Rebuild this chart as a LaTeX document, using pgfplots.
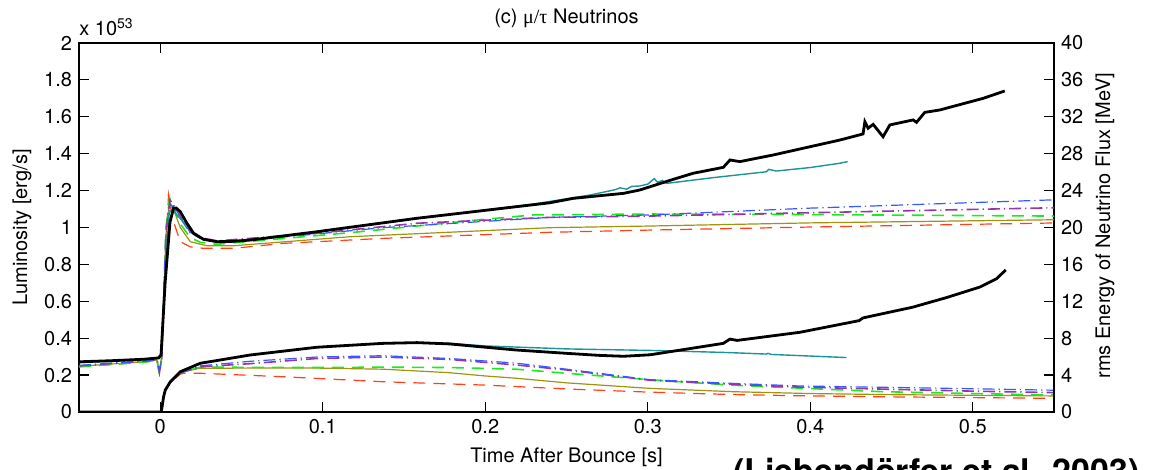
\documentclass[border=0pt]{standalone}
\usepackage{fontspec}
\setmainfont{TeX Gyre Heros}
\newfontfamily\greek{Liberation Serif}
\usepackage{pgfplots}
\pgfplotsset{compat=1.18}

\definecolor{cteal}{rgb}{0.10,0.58,0.60}
\definecolor{cblue}{rgb}{0.20,0.35,1.00}
\definecolor{cpurple}{rgb}{0.60,0.20,0.65}
\definecolor{cgreen}{rgb}{0.10,0.93,0.10}
\definecolor{colive}{rgb}{0.62,0.58,0.05}
\definecolor{cred}{rgb}{1.00,0.25,0.10}

\pgfplotsset{
  base/.style={
    width=487.5pt, height=184.5pt, scale only axis,
    at={(0,0)}, anchor=south west,
    xmin=-0.05, xmax=0.55,
    tick align=inside, major tick length=5pt,
    tick style={black, line width=0.6pt},
    axis line style={line width=0.6pt},
    tick label style={font=\fontsize{10}{12}\selectfont},
    label style={font=\fontsize{10}{12}\selectfont},
    clip=true,
  },
  sdash/.style={dash pattern=on 6pt off 4pt},
  sdd/.style={dash pattern=on 6pt off 2pt on 0.6pt off 2pt},
}

\begin{document}
\begin{tikzpicture}
% luminosities, left axis
\begin{axis}[base,
  ymin=0, ymax=2,
  xtick={0,0.1,0.2,0.3,0.4,0.5}, xticklabels={0,0.1,0.2,0.3,0.4,0.5},
  ytick={0,0.2,...,2}, yticklabels={0,0.2,0.4,0.6,0.8,1,1.2,1.4,1.6,1.8,2},
  xlabel={Time After Bounce [s]},
  xlabel style={at={(axis description cs:0.5,-0.122)}, anchor=center},
  ylabel={Luminosity [erg/s]},
  ylabel style={at={(axis description cs:-0.0585,0.5)}, anchor=center},
]
\addplot[cred, sdash, line width=0.6pt] coordinates {
(-0.05,0)(0.0005,0)(0.001,0.02)(0.002,0.08)(0.0031,0.118)(0.0062,0.16)(0.0123,0.205)(0.0143,0.21)(0.0246,0.21)(0.0758,0.191)(0.137,0.164)(0.199,0.146)(0.255,0.123)(0.3,0.108)(0.35,0.095)(0.4,0.087)(0.45,0.082)(0.55,0.074)};
\addplot[colive, line width=0.6pt] coordinates {
(-0.05,0)(0.0005,0)(0.001,0.02)(0.002,0.08)(0.0031,0.118)(0.0062,0.162)(0.0123,0.215)(0.0246,0.237)(0.0554,0.238)(0.0964,0.238)(0.137,0.232)(0.178,0.213)(0.199,0.196)(0.219,0.183)(0.25,0.158)(0.3014,0.128)(0.3526,0.11)(0.4,0.1)(0.45,0.094)(0.55,0.087)};
\addplot[cgreen, sdash, line width=0.8pt] coordinates {
(-0.05,0)(0.0005,0)(0.001,0.02)(0.002,0.08)(0.0031,0.118)(0.0062,0.162)(0.0123,0.215)(0.0246,0.243)(0.0554,0.242)(0.0964,0.241)(0.137,0.243)(0.178,0.241)(0.219,0.232)(0.25,0.21)(0.3014,0.175)(0.3526,0.145)(0.4448,0.11)(0.5,0.1)(0.55,0.092)};
\addplot[cpurple, sdd, line width=0.8pt] coordinates {
(-0.05,0)(0.0005,0)(0.001,0.02)(0.002,0.08)(0.0031,0.118)(0.0062,0.162)(0.0123,0.212)(0.0246,0.245)(0.0554,0.262)(0.0964,0.29)(0.137,0.298)(0.178,0.285)(0.219,0.255)(0.25,0.228)(0.3014,0.172)(0.3526,0.15)(0.3936,0.135)(0.4448,0.124)(0.5,0.113)(0.55,0.105)};
\addplot[cblue, sdd, line width=0.6pt] coordinates {
(-0.05,0)(0.0005,0)(0.001,0.02)(0.002,0.08)(0.0031,0.118)(0.0062,0.162)(0.0123,0.212)(0.0246,0.25)(0.0554,0.275)(0.0964,0.298)(0.137,0.305)(0.178,0.29)(0.219,0.265)(0.25,0.232)(0.3014,0.175)(0.3526,0.155)(0.3936,0.141)(0.4448,0.134)(0.5,0.126)(0.55,0.118)};
\addplot[cteal, line width=0.7pt] coordinates {
(-0.05,0)(0.0005,0)(0.001,0.02)(0.002,0.08)(0.0031,0.119)(0.0062,0.164)(0.0123,0.218)(0.0246,0.264)(0.0554,0.309)(0.0964,0.351)(0.137,0.372)(0.158,0.376)(0.178,0.372)(0.2,0.358)(0.25,0.342)(0.3055,0.333)(0.35,0.322)(0.373,0.314)(0.374,0.318)(0.376,0.312)(0.4223,0.295)};
\addplot[black, line width=1.4pt] coordinates {
(-0.05,0)(0.0005,0)(0.001,0.02)(0.002,0.08)(0.0031,0.119)(0.0062,0.164)(0.0123,0.218)(0.0246,0.264)(0.0554,0.309)(0.0964,0.351)(0.137,0.372)(0.158,0.376)(0.178,0.369)(0.199,0.352)(0.219,0.336)(0.25,0.318)(0.27,0.307)(0.285,0.302)(0.3014,0.31)(0.3218,0.338)(0.3465,0.372)(0.3506,0.395)(0.355,0.388)(0.3936,0.432)(0.43,0.495)(0.4325,0.51)(0.463,0.568)(0.4838,0.62)(0.5043,0.677)(0.5146,0.722)(0.5203,0.77)};
\end{axis}
% rms energies, right axis
\begin{axis}[base,
  ymin=0, ymax=40,
  axis x line=none, axis y line*=right,
  ytick={0,4,...,40}, yticklabels={0,4,8,12,16,20,24,28,32,36,40},
  ylabel={rms Energy of Neutrino Flux [MeV]},
  ylabel style={at={(axis description cs:1.0523,0.505)}, anchor=center, rotate=0},
]
\addplot[cred, sdash, line width=0.6pt] coordinates {
(-0.05,4.9)(-0.03,5.15)(-0.01,5.4)(-0.002,5.6)(-0.0005,4.2)(0.001,6)(0.0035,18)(0.0051,23.52)(0.0075,21)(0.0123,18.46)(0.0185,17.9)(0.0266,17.74)(0.045,17.74)(0.0758,18.28)(0.137,18.82)(0.24,19.48)(0.3013,19.72)(0.4,20.05)(0.55,20.49)};
\addplot[colive, line width=0.6pt] coordinates {
(-0.05,4.95)(-0.03,5.2)(-0.01,5.45)(-0.002,5.62)(-0.0005,4.4)(0.001,6)(0.0035,19)(0.0055,22.6)(0.0085,21.8)(0.0123,20.0)(0.0185,18.46)(0.0287,18.02)(0.045,18.02)(0.1169,19.0)(0.24,19.98)(0.3013,20.16)(0.4,20.5)(0.55,20.84)};
\addplot[cgreen, sdash, line width=0.8pt] coordinates {
(-0.05,4.9)(-0.03,5.15)(-0.01,5.4)(-0.002,5.6)(-0.0005,4.0)(0.001,6)(0.0035,20)(0.0058,23.2)(0.0085,22)(0.0123,20.4)(0.0185,18.9)(0.0246,18.4)(0.0349,18.18)(0.117,19.44)(0.199,20.88)(0.2296,21.36)(0.3013,21.46)(0.4,21.4)(0.55,21.24)};
\addplot[cpurple, sdd, line width=0.8pt] coordinates {
(-0.05,5.0)(-0.03,5.25)(-0.01,5.5)(-0.002,5.65)(-0.0005,4.3)(0.001,6)(0.0035,19.5)(0.006,23.0)(0.009,22.2)(0.0123,21.2)(0.0185,19.5)(0.0246,18.9)(0.035,18.55)(0.0964,19.38)(0.158,20.46)(0.24,21.1)(0.3013,21.24)(0.4,21.6)(0.55,22.14)};
\addplot[cblue, sdd, line width=0.6pt] coordinates {
(-0.05,5.05)(-0.03,5.3)(-0.01,5.52)(-0.002,5.68)(-0.0005,4.5)(0.001,6)(0.0035,19)(0.006,22.6)(0.009,22.0)(0.0123,21.0)(0.0185,19.4)(0.0246,18.82)(0.035,18.5)(0.06,18.7)(0.137,19.98)(0.24,21.1)(0.3013,21.36)(0.4,22.1)(0.55,23.0)};
\addplot[cteal, line width=0.7pt] coordinates {
(-0.05,5.35)(-0.03,5.5)(-0.01,5.68)(-0.001,5.82)(0.0005,6.0)(0.003,15)(0.0055,21.6)(0.0075,22.0)(0.01,21.4)(0.0164,20.2)(0.0205,19.3)(0.0266,18.7)(0.0349,18.44)(0.0554,18.62)(0.0964,19.52)(0.158,20.98)(0.2,21.9)(0.23,22.55)(0.2645,23.52)(0.28,24.1)(0.283,24.3)(0.287,24.15)(0.29,24.45)(0.295,24.5)(0.3,24.7)(0.304,25.3)(0.306,24.9)(0.309,25.1)(0.3116,24.78)(0.34,25.4)(0.373,26.04)(0.3745,26.3)(0.379,26.12)(0.4,26.5)(0.418,26.96)(0.423,27.14)};
\addplot[black, line width=1.4pt] coordinates {
(-0.05,5.44)(-0.03,5.56)(-0.01,5.72)(-0.001,5.86)(0.0005,6.2)(0.003,14)(0.006,20.6)(0.0082,22.1)(0.0098,22.12)(0.0123,21.72)(0.0164,20.46)(0.0205,19.38)(0.0266,18.72)(0.0349,18.46)(0.045,18.5)(0.0554,18.64)(0.0964,19.54)(0.158,21.0)(0.2,21.86)(0.2398,22.68)(0.2542,23.16)(0.285,23.7)(0.295,24.06)(0.3157,25.22)(0.328,25.88)(0.3465,26.52)(0.3506,27.32)(0.3567,27.14)(0.3772,27.86)(0.4182,29.48)(0.4325,30.14)(0.4336,31.46)(0.4356,30.76)(0.4387,31.18)(0.4448,29.84)(0.449,31.12)(0.4633,31.66)(0.4654,31.4)(0.4705,32.48)(0.4797,32.74)(0.5064,34.0)(0.5197,34.8)};
\end{axis}
\node[anchor=center, inner sep=0pt, font=\fontsize{10}{12}\selectfont] at (243.75pt,197pt) {(c) {\greek μ/τ} Neutrinos};
\node[anchor=south west, inner sep=0pt, font=\fontsize{10}{12}\selectfont] at (0pt,188pt) {x 10\textsuperscript{53}};
\node[anchor=base west, inner sep=0pt, font=\fontsize{17}{20}\selectfont\bfseries] at (327pt,-36pt) {(Liebendörfer et al. 2003)};
\pgfresetboundingbox
\useasboundingbox (-39.5pt,-29pt) rectangle (536pt,206pt);
\end{tikzpicture}
\end{document}
